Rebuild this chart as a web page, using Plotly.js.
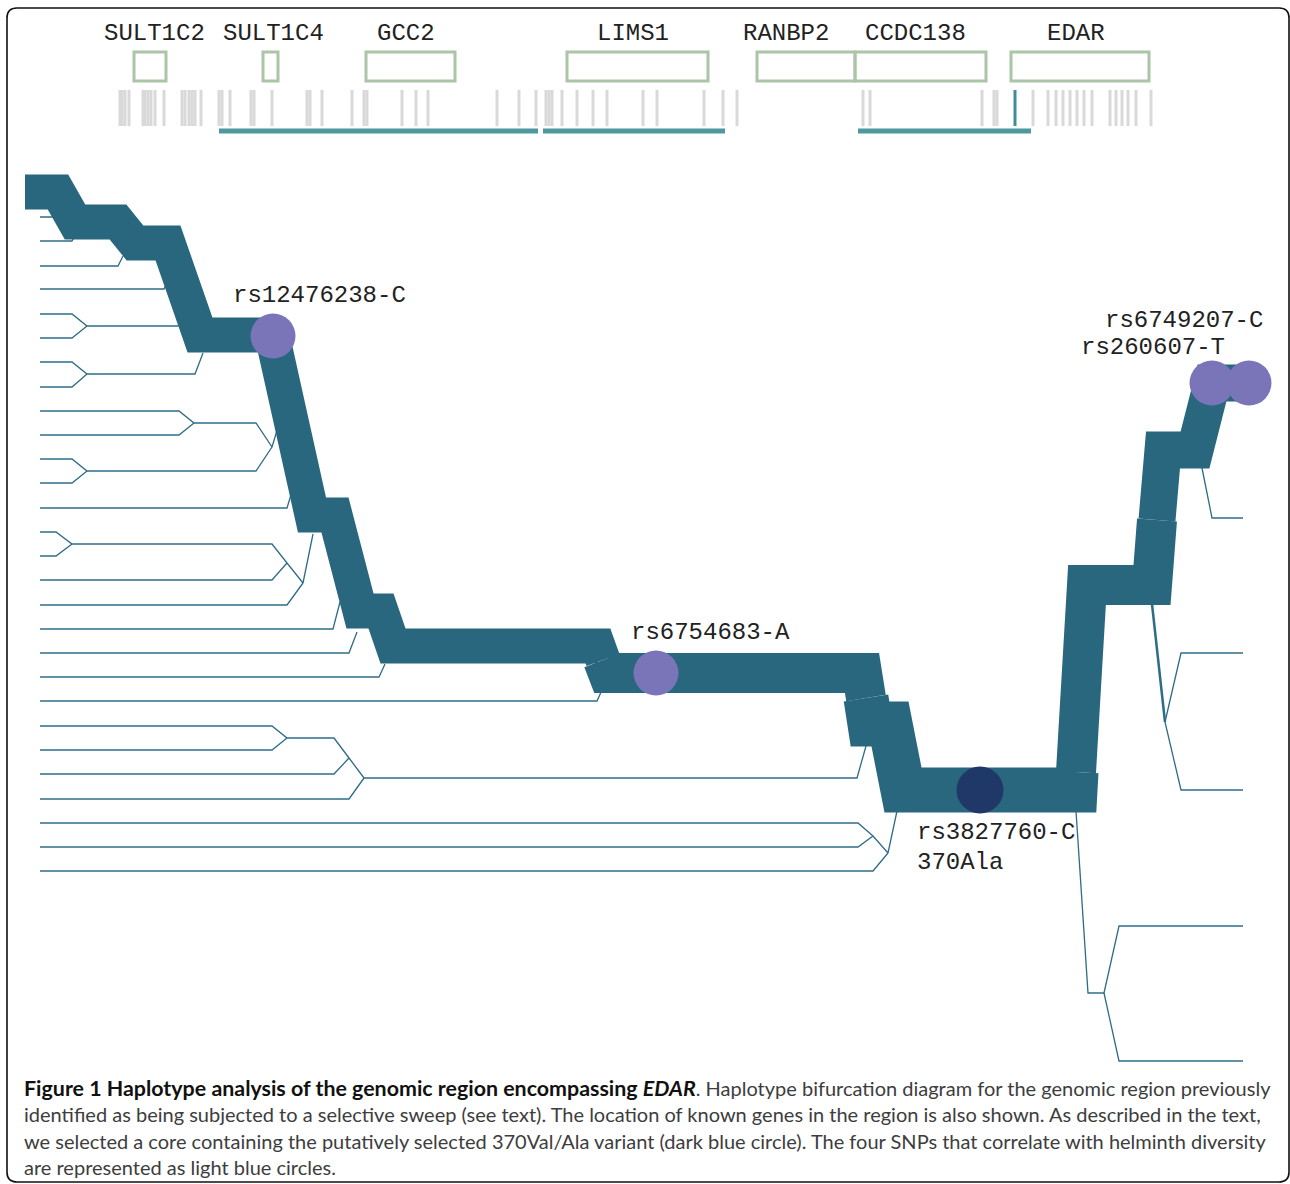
<!DOCTYPE html>
<html>
<head>
<meta charset="utf-8">
<script src="https://cdn.plot.ly/plotly-3.0.1.min.js"></script>
<style>
  html, body { margin: 0; padding: 0; background: #ffffff; }
  #chart { width: 1290px; height: 1184px; }
</style>
</head>
<body>
<div id="chart"></div>
<script>
// ---------------- DATA ----------------
// Genes in the region (position along the genomic axis, drawing units)
const geneNames  = ["SULT1C2", "SULT1C4", "GCC2", "LIMS1", "RANBP2", "CCDC138", "EDAR"];
const geneStart  = [134, 263, 366, 567, 757, 855, 1011];
const geneEnd    = [166, 278, 455, 708, 855, 986, 1149];
const geneLabelX = [154, 273, 406, 633, 786, 915, 1076];

// SNP positions (grey ticks) and the selected core SNP
const snpTicks = [120, 122, 125, 129, 143, 145, 148, 151, 155, 164, 182, 185, 189, 192, 195, 201,
  219, 222, 230, 251, 254, 272, 307, 310, 322, 352, 364, 367, 402, 416, 428, 497, 519, 536,
  546, 549, 552, 562, 577, 593, 607, 643, 657, 704, 723, 737, 863, 870, 982, 994, 997,
  1033, 1048, 1056, 1063, 1070, 1077, 1084, 1092, 1110, 1116, 1122, 1128, 1136, 1151];
const coreSnpPos = [1015];

// Extended haplotype spans (teal bars)
const spanStart = [219, 543, 858];
const spanEnd   = [538, 725, 1031];

// Main (core) haplotype trunk path and its thickness per segment
const trunkX = [25, 58, 75, 118, 135, 168, 200, 272, 312, 335, 360, 381, 393, 598, 603, 608,
  862, 866, 870, 890, 903, 1075, 1076, 1087, 1152, 1157, 1163, 1195, 1212, 1250];
const trunkY = [192, 192, 222, 222, 243, 243, 335, 335, 515, 515, 611, 611, 646, 646, 660, 673,
  673, 698, 724, 724, 790, 790, 772, 585, 585, 520, 450, 450, 383, 383];
const trunkW = [35, 35, 35, 35, 35, 35, 35, 35, 35, 35, 35, 35, 35, 35, 40, 40, 40,
  45, 45, 45, 45, 45, 40, 40, 40, 37, 37, 37, 37];

// Minor haplotype branches (left of core)
const leftBranches = [
  [[40,217],[56,217],[61,209]],
  [[40,241],[72,241],[77,232]],
  [[40,266],[118,266],[123,256]],
  [[40,289],[164,289],[169,279]],
  [[40,314],[72,314],[87,326],[178,326],[184,314]],
  [[40,338],[72,338],[87,326]],
  [[40,362],[72,362],[87,374],[195,374],[203,353]],
  [[40,387],[72,387],[87,374]],
  [[40,411],[179,411],[194,423],[256,423],[272,447],[279,424]],
  [[40,435],[179,435],[194,423]],
  [[40,459],[72,459],[87,471],[256,471],[272,447]],
  [[40,483],[72,483],[87,471]],
  [[40,508],[287,508],[293,488]],
  [[40,532],[56,532],[72,544],[272,544],[287,563],[303,583],[313,534]],
  [[40,556],[56,556],[72,544]],
  [[40,580],[272,580],[287,563]],
  [[40,605],[287,605],[303,583]],
  [[40,629],[333,629],[340,602]],
  [[40,653],[349,653],[357,632]],
  [[40,677],[379,677],[385,664]],
  [[40,701],[597,701],[602,690]],
  [[40,726],[272,726],[287,738],[334,738],[349,758],[364,778],[857,778],[866,746]],
  [[40,750],[272,750],[287,738]],
  [[40,774],[334,774],[349,758]],
  [[40,799],[349,799],[364,778]],
  [[40,823],[858,823],[873,836],[888,853],[897,811]],
  [[40,847],[858,847],[873,836]],
  [[40,871],[873,871],[888,853]]
];
// Minor haplotype branches (right of core)
const rightBranches = [
  [[1076,811],[1088,993],[1104,993],[1119,926],[1243,926]],
  [[1104,993],[1119,1061],[1243,1061]],
  [[1165,722],[1181,653],[1243,653]],
  [[1165,722],[1181,790],[1243,790]],
  [[1202,468],[1212,518],[1243,518]]
];
const rightThickBranch = [[1152,604],[1165,722]];

// Highlighted SNPs
const snpLabels   = ["rs12476238-C", "rs6754683-A", "rs3827760-C", "rs260607-T", "rs6749207-C"];
const snpX        = [273, 656, 980, 1212, 1249];
const snpY        = [336, 673, 790, 383, 383];
const snpIsCore   = [false, false, true, false, false];
const labelX      = [231, 629, 915, 1079, 1103];
const labelY      = [295, 632, 832, 347, 320];

// Caption lines
const captionLines = [
  "<b><span style='color:#111;font-size:21.4px'>Figure 1 Haplotype analysis of the genomic region encompassing <i>EDAR</i></span></b>. Haplotype bifurcation diagram for the genomic region previously",
  "identified as being subjected to a selective sweep (see text). The location of known genes in the region is also shown. As described in the text,",
  "we selected a core containing the putatively selected 370Val/Ala variant (dark blue circle). The four SNPs that correlate with helminth diversity",
  "are represented as light blue circles."
];

// ---------------- STYLE ----------------
const TRUNK = "#29677f";
const BRANCH = "#2f6c86";
const LIGHT = "#7a74b8";
const DARK = "#1f3868";
const GENE = "#abc5a7";
const TICK = "#d9d9d9";
const SPAN = "#4e989e";
const MONO = "Liberation Mono, Courier New, monospace";

const traces = [];

// SNP ticks
const tx = [], ty = [];
snpTicks.forEach(p => { tx.push(p, p, null); ty.push(90, 126, null); });
traces.push({x: tx, y: ty, mode: "lines", line: {color: TICK, width: 3}, hoverinfo: "skip"});
const cx = [], cy = [];
coreSnpPos.forEach(p => { cx.push(p, p, null); cy.push(90, 126, null); });
traces.push({x: cx, y: cy, mode: "lines", line: {color: "#3b8e98", width: 3}, hoverinfo: "skip"});

// Spans
const sx = [], sy = [];
spanStart.forEach((s, i) => { sx.push(s, spanEnd[i], null); sy.push(131, 131, null); });
traces.push({x: sx, y: sy, mode: "lines", line: {color: SPAN, width: 5}, hoverinfo: "skip"});

// Branches
function flatten(paths) {
  const x = [], y = [];
  paths.forEach(p => { p.forEach(pt => { x.push(pt[0]); y.push(pt[1]); }); x.push(null); y.push(null); });
  return {x, y};
}
const lb = flatten(leftBranches);
traces.push({x: lb.x, y: lb.y, mode: "lines", line: {color: BRANCH, width: 1.3, simplify: false}, hoverinfo: "skip"});
const rb = flatten(rightBranches);
traces.push({x: rb.x, y: rb.y, mode: "lines", line: {color: BRANCH, width: 1.3, simplify: false}, hoverinfo: "skip"});
const rt = flatten([rightThickBranch]);
traces.push({x: rt.x, y: rt.y, mode: "lines", line: {color: BRANCH, width: 2.5, simplify: false}, hoverinfo: "skip"});

// Trunk: group consecutive segments with equal thickness
let start = 0;
for (let i = 1; i <= trunkW.length; i++) {
  if (i === trunkW.length || trunkW[i] !== trunkW[start]) {
    traces.push({
      x: trunkX.slice(start, i + 1), y: trunkY.slice(start, i + 1),
      mode: "lines", line: {color: TRUNK, width: trunkW[start], simplify: false},
      hoverinfo: "skip"
    });
    start = i;
  }
}

// SNP circles
traces.push({
  x: snpX, y: snpY, mode: "markers", hoverinfo: "skip",
  marker: {size: snpIsCore.map(c => c ? 47 : 45), color: snpIsCore.map(c => c ? DARK : LIGHT),
           opacity: 1, line: {width: 0}}
});

// ---------------- LAYOUT ----------------
const shapes = [];
geneNames.forEach((g, i) => {
  shapes.push({type: "rect", xref: "x", yref: "y", x0: geneStart[i], x1: geneEnd[i], y0: 52, y1: 81,
    line: {color: GENE, width: 3}, fillcolor: "rgba(0,0,0,0)", layer: "above"});
});
shapes.push({type: "path", xref: "x", yref: "y",
  path: "M 17 8 L 1279 8 Q 1289 8 1289 18 L 1289 1172 Q 1289 1182 1279 1182 L 17 1182 Q 7 1182 7 1172 L 7 18 Q 7 8 17 8 Z",
  line: {color: "#111", width: 1.6}, fillcolor: "rgba(0,0,0,0)"});

const annotations = [];
geneNames.forEach((g, i) => {
  annotations.push({x: geneLabelX[i], y: 33, xref: "x", yref: "y", text: g, showarrow: false,
    xanchor: "center", yanchor: "middle", font: {family: MONO, size: 24, color: "#222"}});
});
snpLabels.forEach((s, i) => {
  annotations.push({x: labelX[i], y: labelY[i], xref: "x", yref: "y", text: s, showarrow: false,
    xanchor: "left", yanchor: "middle", font: {family: MONO, size: 24, color: "#222"}});
});
annotations.push({x: 915, y: 862, xref: "x", yref: "y", text: "370Ala", showarrow: false,
  xanchor: "left", yanchor: "middle", font: {family: MONO, size: 24, color: "#222"}});
captionLines.forEach((t, i) => {
  annotations.push({x: 22, y: 1088 + i * 26.3, xref: "x", yref: "y", text: t, showarrow: false,
    xanchor: "left", yanchor: "middle", align: "left",
    font: {family: "Lato, Open Sans, sans-serif", size: 20, color: "#3d3d3d"}});
});

const layout = {
  width: 1290, height: 1184,
  margin: {l: 0, r: 0, t: 0, b: 0, pad: 0},
  paper_bgcolor: "#ffffff", plot_bgcolor: "#ffffff",
  showlegend: false,
  xaxis: {range: [0, 1290], visible: false, fixedrange: true},
  yaxis: {range: [1184, 0], visible: false, fixedrange: true},
  shapes, annotations
};

Plotly.newPlot("chart", traces, layout, {staticPlot: true, displayModeBar: false});
</script>
</body>
</html>
